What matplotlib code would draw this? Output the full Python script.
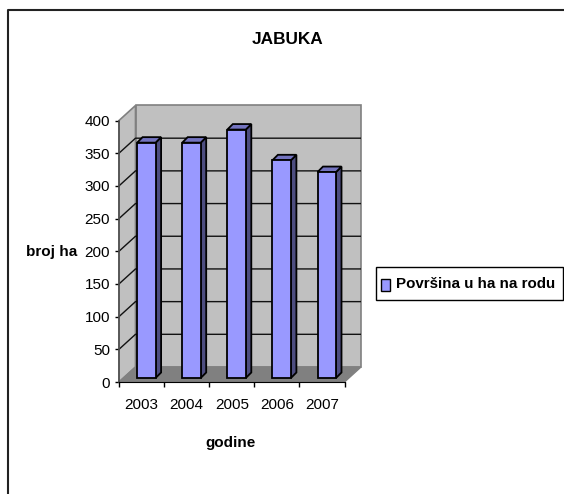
"""Recreates the JABUKA 3D-look column chart (Excel style) with plain matplotlib."""

import matplotlib

matplotlib.use("Agg")
import matplotlib.pyplot as plt
from matplotlib.patches import Polygon, Rectangle

years = ["2003", "2004", "2005", "2006", "2007"]
area_ha = [360, 360, 380, 333, 315]
y_ticks = [0, 50, 100, 150, 200, 250, 300, 350, 400]

W, H = 564, 494
FONT = ["Liberation Sans", "DejaVu Sans"]
plt.rcParams["font.family"] = FONT

fig = plt.figure(figsize=(W / 100, H / 100), dpi=100)
fig.patch.set_facecolor("white")

# front plane of the plot, in pixels
left, right, top, bottom = 119, 344.5, 120.5, 382
ax = fig.add_axes([left / W, 1 - bottom / H, (right - left) / W, (bottom - top) / H])
ax.set_xlim(0, len(years))
ax.set_ylim(0, 400)
ax.patch.set_visible(False)

# pixel sizes expressed in data units
px_x = len(years) / (right - left)
px_y = 400 / (bottom - top)
depth_x, depth_y = 16.5 * px_x, 15 * px_y

n = len(years)
ymax = y_ticks[-1]

# walls and floor
ax.add_patch(Polygon([(depth_x, depth_y), (n + depth_x, depth_y), (n + depth_x, ymax + depth_y),
                      (depth_x, ymax + depth_y)], closed=True, fc="#c0c0c0", ec="#808080",
                     lw=1.2, clip_on=False, zorder=1))
ax.add_patch(Polygon([(0, 0), (depth_x, depth_y), (depth_x, ymax + depth_y), (0, ymax)],
                     closed=True, fc="#c0c0c0", ec="#808080", lw=1.2, clip_on=False, zorder=1))
ax.add_patch(Polygon([(0, 0), (n, 0), (n + depth_x, depth_y), (depth_x, depth_y)],
                     closed=True, fc="#808080", ec="#808080", lw=1, clip_on=False, zorder=1))

# gridlines run along the side wall then the back wall
for t in y_ticks[1:-1]:
    ax.plot([0, depth_x, n + depth_x], [t, t + depth_y, t + depth_y], color="#111111", lw=1,
            clip_on=False, zorder=2, solid_capstyle="butt")

# bars: front face through ax.bar, sides and tops from the same values
bar_w = 18.5 * px_x
off_x, off_y = 4.8 * px_x, 4 * px_y
side_x, side_y = 5.5 * px_x, 5.5 * px_y
for i, v in enumerate(area_ha):
    x0 = i + 0.5 - bar_w / 2 + off_x
    x1 = x0 + bar_w
    ax.add_patch(Polygon([(x1, off_y), (x1 + side_x, off_y + side_y),
                          (x1 + side_x, off_y + v + side_y), (x1, off_y + v)], closed=True,
                         fc="#4d4d80", ec="black", lw=1.3, clip_on=False, zorder=3))
    ax.add_patch(Polygon([(x0, off_y + v), (x1, off_y + v), (x1 + side_x, off_y + v + side_y),
                          (x0 + side_x, off_y + v + side_y)], closed=True,
                         fc="#7373bf", ec="black", lw=1.3, clip_on=False, zorder=3))
    ax.bar(x0, v, width=bar_w, bottom=off_y, align="edge", color="#9999ff", edgecolor="black",
           linewidth=1.3, clip_on=False, zorder=4)

# axes
for s in ["top", "right"]:
    ax.spines[s].set_visible(False)
ax.spines["left"].set_color("#505050")
ax.spines["left"].set_linewidth(1.2)
ax.spines["bottom"].set_color("black")
ax.set_yticks(y_ticks)
ax.set_xticks(range(n + 1))
ax.set_xticklabels([])
ax.tick_params(axis="y", length=3, width=1, pad=3.5, labelsize=11)
ax.tick_params(axis="x", length=3.5, width=1)
for i, label in enumerate(years):
    ax.annotate(label, xy=(i + 0.5, 0), xytext=(0, -16.5), textcoords="offset points", ha="center",
                va="center", fontsize=11, annotation_clip=False)
ax.set_axisbelow(False)
for s in ax.spines.values():
    s.set_zorder(5)


# text placed in figure pixels
def fig_text(px, py, s, **kw):
    fig.text(px / W, 1 - py / H, s, ha="center", va="center", **kw)


fig_text(287.5, 40, "JABUKA", fontsize=12.4, fontweight="bold")
fig_text(51.5, 252, "broj ha", fontsize=11, fontweight="bold")
fig_text(231, 443, "godine", fontsize=11, fontweight="bold")

# legend box
fig.add_artist(Rectangle((376 / W, 1 - 300 / H), 187 / W, 33 / H, transform=fig.transFigure,
                         fc="white", ec="black", lw=1))
fig.add_artist(Rectangle((381 / W, 1 - 290.5 / H), 9 / W, 12 / H, transform=fig.transFigure,
                         fc="#9999ff", ec="black", lw=1))
fig.text(396 / W, 1 - 284 / H, "Površina u ha na rodu", ha="left", va="center", fontsize=10.9,
         fontweight="bold")

# outer chart frame
fig.add_artist(plt.Line2D([7.5 / W, 7.5 / W, 563 / W], [0, 1 - 10.5 / H, 1 - 10.5 / H],
                          color="#222222", lw=1.5, transform=fig.transFigure))

fig.savefig("out.png", dpi=100)
plt.close(fig)
